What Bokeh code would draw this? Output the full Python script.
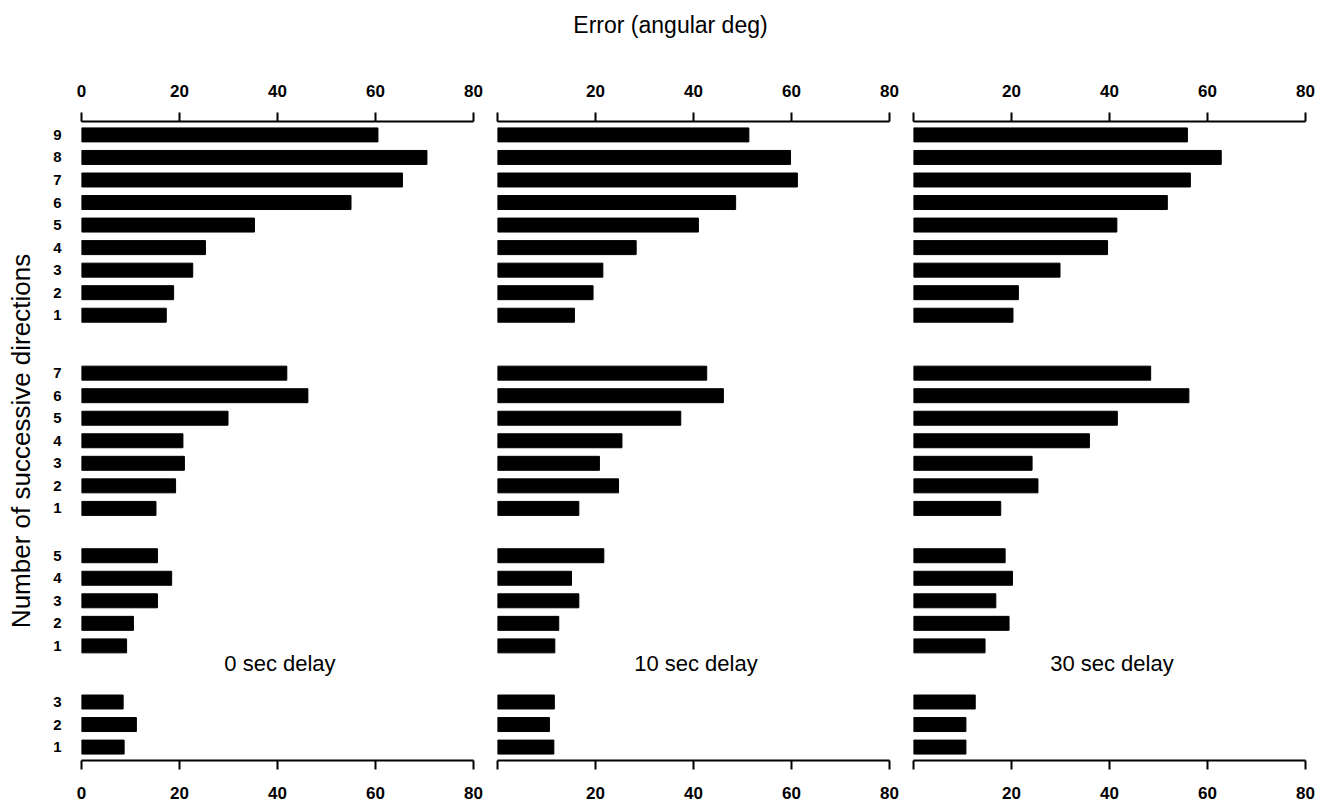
from bokeh.plotting import figure
from bokeh.layouts import row, column
from bokeh.models import Range1d, LinearAxis, FixedTicker
from bokeh.core.properties import value
from bokeh.embed import file_html
from bokeh.resources import INLINE

# ---------------- data ----------------
x_ticks = [0, 20, 40, 60, 80]
group_sizes = [9, 7, 5, 3]
delay_labels = ["0 sec delay", "10 sec delay", "30 sec delay"]
x_title = "Error (angular deg)"
y_title = "Number of successive directions"

# errors (angular deg), listed top to bottom within each group (n ... 1)
err_0s_g9 = [60.5, 70.5, 65.5, 55.0, 35.3, 25.3, 22.7, 18.8, 17.3]
err_0s_g7 = [41.9, 46.2, 29.9, 20.7, 21.0, 19.2, 15.2]
err_0s_g5 = [15.5, 18.4, 15.5, 10.6, 9.2]
err_0s_g3 = [8.5, 11.2, 8.7]

err_10s_g9 = [51.3, 59.8, 61.2, 48.6, 41.0, 28.3, 21.5, 19.5, 15.7]
err_10s_g7 = [42.7, 46.1, 37.4, 25.4, 20.8, 24.7, 16.6]
err_10s_g5 = [21.7, 15.1, 16.6, 12.5, 11.7]
err_10s_g3 = [11.6, 10.6, 11.5]

err_30s_g9 = [55.9, 62.8, 56.5, 51.8, 41.5, 39.6, 29.9, 21.4, 20.3]
err_30s_g7 = [48.4, 56.2, 41.6, 35.9, 24.2, 25.4, 17.8]
err_30s_g5 = [18.7, 20.2, 16.8, 19.5, 14.6]
err_30s_g3 = [12.6, 10.7, 10.7]

panels = [
    err_0s_g9 + err_0s_g7 + err_0s_g5 + err_0s_g3,
    err_10s_g9 + err_10s_g7 + err_10s_g5 + err_10s_g3,
    err_30s_g9 + err_30s_g7 + err_30s_g5 + err_30s_g3,
]

# ---------------- layout ----------------
FONT = "Liberation Sans"
GROUP_GAPS = [2.57, 2.1, 2.49]   # distance (in rows) between groups
PAD = 0.595
BAR_H = 0.62

slots, row_labels, group_last = [], [], []
pos = 0.0
for gi, n in enumerate(group_sizes):
    if gi > 0:
        pos = group_last[-1] + GROUP_GAPS[gi - 1]
    for k in range(n):
        slots.append(pos + k)
        row_labels.append(str(n - k))
    group_last.append(pos + n - 1)

ys = [-s for s in slots]
last = group_last[-1]
label_y = -(group_last[2] + 0.78)

TITLE_H = 40
H = 806 - TITLE_H
TOP = 81
FRAME_H = 639
widths = [485, 416, 423]
lefts = [81, 12, 12]
rights = [12, 12, 19]


def style_x_axis(ax, standoff, hide_zero):
    ax.ticker = FixedTicker(ticks=x_ticks)
    ax.axis_line_width = 2
    ax.axis_line_color = "black"
    ax.major_tick_line_width = 2
    ax.major_tick_line_color = "black"
    ax.major_tick_out = 9
    ax.major_tick_in = 0
    ax.minor_tick_line_color = None
    ax.major_label_text_font = FONT
    ax.major_label_text_font_style = "bold"
    ax.major_label_text_font_size = "17px"
    ax.major_label_text_color = "black"
    ax.major_label_standoff = standoff
    if hide_zero:
        ax.major_label_overrides = {0: ""}


# title strip
tf = figure(width=1324, height=TITLE_H, output_backend="svg", toolbar_location=None,
            x_range=Range1d(0, 1324), y_range=Range1d(0, TITLE_H),
            x_axis_location=None, y_axis_location=None,
            min_border=0)
tf.outline_line_color = None
tf.xgrid.visible = False
tf.ygrid.visible = False
tf.text(x=[670], y=[TITLE_H - 24], text=[x_title], text_font=value(FONT),
        text_font_size="23px", text_align="center", text_baseline="middle",
        text_color="black")

figs = []
for i in range(3):
    p = figure(width=widths[i], height=H, output_backend="svg", toolbar_location=None,
               x_range=Range1d(0, 80), y_range=Range1d(-(last + PAD), PAD),
               y_axis_location="left" if i == 0 else None,
               min_border_left=lefts[i], min_border_right=rights[i],
               min_border_top=TOP, min_border_bottom=H - TOP - FRAME_H)
    p.outline_line_color = None
    p.xgrid.visible = False
    p.ygrid.visible = False
    p.background_fill_color = "white"
    p.border_fill_color = "white"

    p.hbar(y=ys, right=panels[i], left=0, height=BAR_H,
           fill_color="black", line_color="black")

    style_x_axis(p.below[0], 17, i > 0)
    top_ax = LinearAxis()
    style_x_axis(top_ax, 16, i > 0)
    p.add_layout(top_ax, "above")

    p.text(x=[40.5], y=[label_y], text=[delay_labels[i]],
           text_font=value(FONT), text_font_size="22px",
           text_align="center", text_baseline="middle", text_color="black")

    if i == 0:
        ya = p.left[0]
        ya.ticker = FixedTicker(ticks=ys)
        ya.major_label_overrides = {y: lab for y, lab in zip(ys, row_labels)}
        ya.axis_line_color = None
        ya.major_tick_line_color = None
        ya.minor_tick_line_color = None
        ya.major_tick_out = 0
        ya.major_tick_in = 0
        ya.major_label_standoff = 20
        ya.major_label_text_font = FONT
        ya.major_label_text_font_style = "bold"
        ya.major_label_text_font_size = "15px"
        ya.major_label_text_color = "black"
        ya.axis_label = y_title
        ya.axis_label_text_font = FONT
        ya.axis_label_text_font_style = "normal"
        ya.axis_label_text_font_size = "26px"
        ya.axis_label_text_color = "black"
        ya.axis_label_standoff = 14
    figs.append(p)

layout = column(tf, row(*figs))
open("out.html", "w").write(file_html(layout, INLINE))
